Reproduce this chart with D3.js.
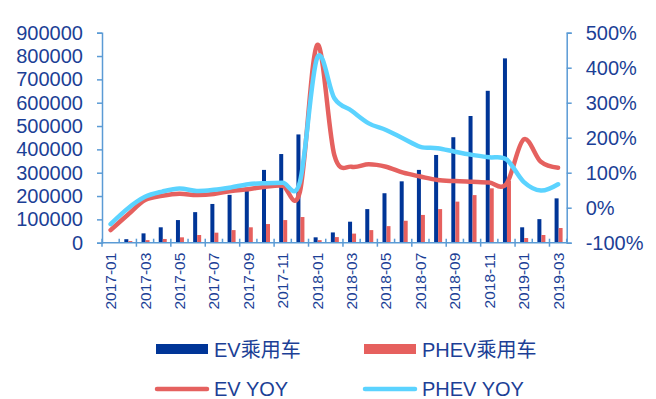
<!DOCTYPE html>
<html>
<head>
<meta charset="utf-8">
<script src="https://cdn.jsdelivr.net/npm/d3@7/dist/d3.min.js"></script>
<style>
  html, body { margin: 0; padding: 0; background: #fff; }
  svg { display: block; }
  text { font-family: "Liberation Sans", Arial, "Noto Sans CJK SC", sans-serif; fill: #1c3f96; }
</style>
</head>
<body>
<svg id="chart" width="656" height="399"></svg>
<script>
// Monthly cumulative passenger NEV sales and year-on-year growth
const months = [
  "2017-01","2017-02","2017-03","2017-04","2017-05","2017-06","2017-07","2017-08","2017-09",
  "2017-10","2017-11","2017-12","2018-01","2018-02","2018-03","2018-04","2018-05","2018-06",
  "2018-07","2018-08","2018-09","2018-10","2018-11","2018-12","2019-01","2019-02","2019-03"
];
const evSales = [
  null, 15000, 40000, 66000, 97000, 131000, 166000, 205000, 235000,
  312000, 380000, 464000, 23000, 44000, 90000, 144000, 212000, 263000,
  312000, 376000, 452000, 543000, 651000, 790000, 66000, 101000, 190000
];
const phevSales = [
  null, 7000, 11000, 16000, 23000, 33000, 43000, 54000, 66000,
  80000, 97000, 110000, 11000, 24000, 39000, 54000, 71000, 94000,
  119000, 144000, 176000, 204000, 233000, 265000, 20000, 33000, 63000
];
// YOY growth, percent
const evYoy = [
  -64, -20, 22, 34, 40, 36, 39, 48, 53,
  60, 63, 46, 465, 150, 117, 124, 117, 100,
  89, 79, 76, 74, 72, 68, 195, 131, 114
];
const phevYoy = [
  -47, -2, 31, 46, 55, 48, 51, 58, 67,
  70, 71, 74, 428, 313, 277, 241, 222, 198,
  174, 170, 160, 151, 144, 138, 74, 49, 67
];
const leftTicks = [0, 100000, 200000, 300000, 400000, 500000, 600000, 700000, 800000, 900000];
const rightTicks = [-100, 0, 100, 200, 300, 400, 500];
const seriesNames = ["EV乘用车", "PHEV乘用车", "EV YOY", "PHEV YOY"];

const C = {
  ev: "#003597",
  phev: "#e6605e",
  evLine: "#e5615f",
  phevLine: "#5bd3ff",
  axis: "#5b9bd5"
};

const svg = d3.select("#chart");
const plotL = 102, plotR = 566.7, plotT = 32.7, plotB = 242.7;

const x = d3.scaleBand().domain(months).range([plotL, plotR]).padding(0);
const yL = d3.scaleLinear().domain([0, 900000]).range([plotB, plotT]);
const yR = d3.scaleLinear().domain([-100, 500]).range([plotB, plotT]);
const barW = 4;

// bars
const bars = svg.append("g");
bars.selectAll("rect.ev").data(months.map((m, i) => ({ m, v: evSales[i] })).filter(d => d.v != null))
  .join("rect").attr("class", "ev")
  .attr("x", d => x(d.m) + x.bandwidth() / 2 + 0.5 - barW)
  .attr("width", barW)
  .attr("y", d => yL(d.v))
  .attr("height", d => yL(0) - yL(d.v))
  .attr("fill", C.ev);
bars.selectAll("rect.phev").data(months.map((m, i) => ({ m, v: phevSales[i] })).filter(d => d.v != null))
  .join("rect").attr("class", "phev")
  .attr("x", d => x(d.m) + x.bandwidth() / 2 + 0.5)
  .attr("width", barW)
  .attr("y", d => yL(d.v))
  .attr("height", d => yL(0) - yL(d.v))
  .attr("fill", C.phev);

// YOY lines
const line = (arr) => d3.line()
  .x((d, i) => x(months[i]) + x.bandwidth() / 2)
  .y(d => yR(d))
  .curve(d3.curveCardinal.tension(0))(arr);

svg.append("path").attr("d", line(evYoy))
  .attr("fill", "none").attr("stroke", C.evLine).attr("stroke-width", 4.5)
  .attr("stroke-linejoin", "round").attr("stroke-linecap", "round");
svg.append("path").attr("d", line(phevYoy))
  .attr("fill", "none").attr("stroke", C.phevLine).attr("stroke-width", 4.5)
  .attr("stroke-linejoin", "round").attr("stroke-linecap", "round");

// axes
const axisG = svg.append("g");
const leftAxis = axisG.append("g").attr("transform", `translate(${plotL},0)`)
  .call(d3.axisLeft(yL).tickValues(leftTicks).tickSize(5).tickPadding(14).tickFormat(d3.format("d")));
const rightAxis = axisG.append("g").attr("transform", `translate(${plotR},0)`)
  .call(d3.axisRight(yR).tickValues(rightTicks).tickSize(5).tickPadding(14).tickFormat(d => d + "%"));
[leftAxis, rightAxis].forEach(g => {
  g.select(".domain").attr("stroke", C.axis).attr("stroke-width", 1.5);
  g.selectAll(".tick line").attr("stroke", C.axis).attr("stroke-width", 1.5);
  g.selectAll(".tick text").attr("font-size", 20).attr("fill", "#1c3f96")
    .style("font-family", "'Liberation Sans', Arial, sans-serif");
});

// category axis: small inner ticks at every boundary, outward ticks every two
const xAxis = axisG.append("g");
xAxis.append("line").attr("x1", plotL).attr("x2", plotR).attr("y1", plotB).attr("y2", plotB)
  .attr("stroke", C.axis).attr("stroke-width", 1.5);
const bounds = d3.range(months.length + 1);
xAxis.selectAll("line.tk").data(bounds).join("line").attr("class", "tk")
  .attr("x1", i => plotL + i * x.step()).attr("x2", i => plotL + i * x.step())
  .attr("y1", i => plotB - 4).attr("y2", i => i % 2 === 0 ? plotB + 4 : plotB)
  .attr("stroke", C.axis).attr("stroke-width", 1.5);
xAxis.selectAll("text").data(months.filter((m, i) => i % 2 === 0)).join("text")
  .attr("transform", m => `translate(${x(m) + x.bandwidth() / 2 + 5.5},${plotB + 10}) rotate(-90)`)
  .attr("text-anchor", "end")
  .attr("font-size", 15.5)
  .text(m => m);

// legend
const lg = svg.append("g");
lg.append("rect").attr("x", 156).attr("y", 344).attr("width", 52).attr("height", 10).attr("fill", C.ev);
lg.append("rect").attr("x", 364).attr("y", 344).attr("width", 52).attr("height", 10).attr("fill", C.phev);
lg.append("line").attr("x1", 157).attr("x2", 207).attr("y1", 389).attr("y2", 389)
  .attr("stroke", C.evLine).attr("stroke-width", 4.5).attr("stroke-linecap", "round");
lg.append("line").attr("x1", 365).attr("x2", 415).attr("y1", 389).attr("y2", 389)
  .attr("stroke", C.phevLine).attr("stroke-width", 4.5).attr("stroke-linecap", "round");
const legendPos = [[214, 357], [422, 357], [214, 396], [422, 396]];
lg.selectAll("text").data(seriesNames).join("text")
  .attr("x", (d, i) => legendPos[i][0]).attr("y", (d, i) => legendPos[i][1])
  .attr("font-size", 20)
  .text(d => d);
</script>
</body>
</html>
